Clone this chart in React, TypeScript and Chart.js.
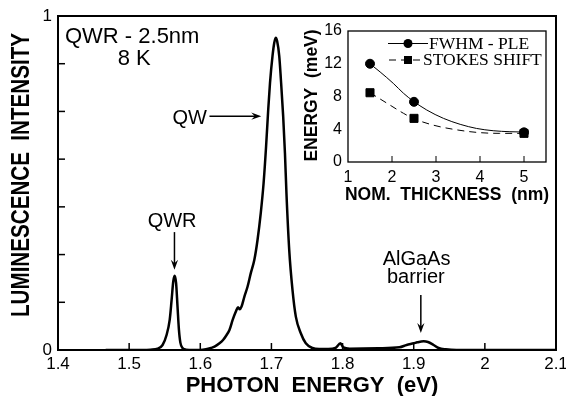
import React, { useEffect, useRef } from "react";
import { Chart, registerables } from "chart.js";

Chart.register(...registerables);

// ---------- Main spectrum data ----------
const spectrumEnergy = [
  1.467, 1.52, 1.53, 1.54, 1.547, 1.5526, 1.557, 1.5597, 1.562, 1.5639, 1.566, 1.568, 1.57, 1.572, 1.575, 1.58, 1.59,
  1.6, 1.608, 1.615, 1.62, 1.627, 1.632, 1.637, 1.641, 1.6455, 1.65, 1.653, 1.6555, 1.658, 1.662, 1.6665, 1.671,
  1.676, 1.6805, 1.685, 1.689, 1.6925, 1.6955, 1.698, 1.7015, 1.704, 1.706, 1.708, 1.711, 1.7133, 1.7165, 1.719,
  1.7211, 1.725, 1.7296, 1.7343, 1.7413, 1.7483, 1.7576, 1.767, 1.78, 1.79, 1.797, 1.801, 1.81, 1.85, 1.88, 1.89,
  1.9, 1.905, 1.914, 1.92, 1.928, 1.935, 1.945, 1.96, 2.1,
];
const spectrumIntensity = [
  0, 0, 0.001, 0.004, 0.015, 0.045, 0.09, 0.15, 0.205, 0.222, 0.2, 0.13, 0.06, 0.022, 0.006, 0.001, 0,
  0, 0.002, 0.006, 0.01, 0.02, 0.03, 0.045, 0.06, 0.09, 0.115, 0.128, 0.122, 0.13, 0.16, 0.19, 0.23,
  0.27, 0.33, 0.41, 0.5, 0.61, 0.72, 0.8, 0.88, 0.92, 0.935, 0.925, 0.88, 0.81, 0.7, 0.59,
  0.47, 0.3, 0.18, 0.1, 0.05, 0.02, 0.006, 0.003, 0.003, 0.006, 0.02, 0.008, 0.004, 0.005, 0.008, 0.015,
  0.02, 0.023, 0.026, 0.024, 0.015, 0.006, 0.002, 0, 0,
];
const mainXTicks = [1.4, 1.5, 1.6, 1.7, 1.8, 1.9, 2.0, 2.1];
const mainXInnerTicks = [1.5, 1.6, 1.7, 1.8, 1.9, 2.0];
const mainYTicks = [0, 1];
const mainYDivisions = 7;

// ---------- Inset data ----------
const thickness = [1.5, 2.5, 5];
const fwhmPle = [12.0, 7.35, 3.62];
const stokesShift = [8.46, 5.33, 3.5];
const fwhmFitX = [1.5, 1.73, 2.03, 2.26, 2.48, 2.79, 3.17, 3.55, 3.92, 4.3, 4.68, 4.98];
const fwhmFitY = [12.0, 11.0, 9.6, 8.4, 7.45, 6.35, 5.33, 4.6, 4.1, 3.82, 3.7, 3.66];
const stokesFitX = [1.5, 1.88, 2.26, 2.48, 2.94, 3.39, 3.92, 4.45, 4.98];
const stokesFitY = [8.46, 7.2, 5.95, 5.33, 4.5, 4.0, 3.62, 3.5, 3.5];
const insetXTicks = [1, 2, 3, 4, 5];
const insetXInnerTicks = [2, 3, 4, 5];
const insetYTicks = [0, 4, 8, 12, 16];

const SANS = "'Liberation Sans', Arial, Helvetica, sans-serif";
const SERIF = "'Liberation Serif', 'Times New Roman', serif";

function drawArrow(ctx: CanvasRenderingContext2D, x1: number, y1: number, x2: number, y2: number, head = 10, half = 3.6) {
  const a = Math.atan2(y2 - y1, x2 - x1);
  const c = Math.cos(a), s = Math.sin(a);
  ctx.beginPath();
  ctx.moveTo(x1, y1);
  ctx.lineTo(x2 - c * head * 0.6, y2 - s * head * 0.6);
  ctx.stroke();
  ctx.beginPath();
  ctx.moveTo(x2, y2);
  ctx.lineTo(x2 - head * c + half * s, y2 - head * s - half * c);
  ctx.lineTo(x2 - head * 0.65 * c, y2 - head * 0.65 * s);
  ctx.lineTo(x2 - head * c - half * s, y2 - head * s + half * c);
  ctx.closePath();
  ctx.fill();
}

function line(ctx: CanvasRenderingContext2D, x1: number, y1: number, x2: number, y2: number) {
  ctx.beginPath();
  ctx.moveTo(x1, y1);
  ctx.lineTo(x2, y2);
  ctx.stroke();
}

const mainDecor = {
  id: "mainDecor",
  afterDatasetsDraw(chart: any) {
    const { ctx, chartArea: a, scales } = chart;
    const x = scales.x, y = scales.y;
    ctx.save();
    ctx.strokeStyle = "#000";
    ctx.fillStyle = "#000";
    ctx.lineWidth = 2;
    ctx.strokeRect(a.left, a.top, a.right - a.left, a.bottom - a.top);
    ctx.lineWidth = 1.5;
    mainXInnerTicks.forEach((v) => {
      const px = x.getPixelForValue(v);
      line(ctx, px, a.bottom, px, a.bottom - 7);
    });
    for (let k = 1; k < mainYDivisions; k++) {
      const py = y.getPixelForValue(k / mainYDivisions);
      line(ctx, a.left, py, a.left + 7, py);
    }

    // annotations
    ctx.textBaseline = "alphabetic";
    ctx.font = `22px ${SANS}`;
    ctx.textAlign = "left";
    ctx.fillText("QWR - 2.5nm", x.getPixelForValue(1.4098), y.getPixelForValue(0.919));
    ctx.fillText("8 K", x.getPixelForValue(1.484), y.getPixelForValue(0.853));
    ctx.font = `20px ${SANS}`;
    ctx.fillText("QW", x.getPixelForValue(1.561), y.getPixelForValue(0.678));
    ctx.lineWidth = 1.5;
    drawArrow(ctx, x.getPixelForValue(1.6129), y.getPixelForValue(0.7), x.getPixelForValue(1.6857), y.getPixelForValue(0.7));
    ctx.textAlign = "center";
    ctx.fillText("QWR", x.getPixelForValue(1.5604), y.getPixelForValue(0.368));
    drawArrow(ctx, x.getPixelForValue(1.5637), y.getPixelForValue(0.353), x.getPixelForValue(1.5637), y.getPixelForValue(0.24));
    ctx.fillText("AlGaAs", x.getPixelForValue(1.904), y.getPixelForValue(0.254));
    ctx.fillText("barrier", x.getPixelForValue(1.903), y.getPixelForValue(0.2));
    drawArrow(ctx, x.getPixelForValue(1.91), y.getPixelForValue(0.165), x.getPixelForValue(1.91), y.getPixelForValue(0.051));

    // axis titles
    ctx.font = `bold 22px ${SANS}`;
    ctx.textAlign = "center";
    ctx.fillText("PHOTON  ENERGY  (eV)", (a.left + a.right) / 2 + 5, a.bottom + 41.5);
    ctx.save();
    ctx.translate(22, (a.top + a.bottom) / 2 - 8);
    ctx.rotate(-Math.PI / 2);
    ctx.font = `bold 22px ${SANS}`;
    ctx.textBaseline = "middle";
    const yTitle = "LUMINESCENCE  INTENSITY";
    const w = ctx.measureText(yTitle).width;
    ctx.scale(284 / w, 1.2);
    ctx.fillText(yTitle, 0, 0);
    ctx.restore();
    ctx.restore();
  },
};

const insetDecor = {
  id: "insetDecor",
  afterDatasetsDraw(chart: any) {
    const { ctx, chartArea: a, scales } = chart;
    const x = scales.x;
    ctx.save();
    ctx.strokeStyle = "#000";
    ctx.fillStyle = "#000";
    ctx.lineWidth = 1.3;
    ctx.strokeRect(a.left, a.top, a.right - a.left, a.bottom - a.top);
    ctx.lineWidth = 1;
    insetXInnerTicks.forEach((v) => {
      const px = x.getPixelForValue(v);
      line(ctx, px, a.bottom, px, a.bottom - 6);
    });

    // legend
    const lx0 = a.left + 40, lx1 = a.left + 80, lm = a.left + 60;
    const r1 = a.top + 12.5, r2 = a.top + 29;
    ctx.lineWidth = 1;
    line(ctx, lx0, r1, lx1, r1);
    ctx.beginPath();
    ctx.arc(lm, r1, 4.5, 0, Math.PI * 2);
    ctx.fill();
    ctx.setLineDash([7, 5]);
    line(ctx, lx0 + 1, r2, lx1 - 7, r2);
    ctx.setLineDash([]);
    ctx.fillRect(lm - 4, r2 - 4, 8, 8);
    ctx.font = `17.5px ${SERIF}`;
    ctx.textAlign = "left";
    ctx.textBaseline = "alphabetic";
    ctx.fillText("FWHM - PLE", lx1 + 1, r1 + 5);
    ctx.fillText("STOKES SHIFT", lx1 - 5, r2 + 5);

    // titles
    ctx.font = `bold 17.5px ${SANS}`;
    ctx.textAlign = "center";
    ctx.textBaseline = "middle";
    ctx.fillText("NOM.  THICKNESS  (nm)", (a.left + a.right) / 2, a.bottom + 33);
    ctx.save();
    ctx.translate(22, (a.top + a.bottom) / 2 - 1);
    ctx.rotate(-Math.PI / 2);
    ctx.font = `bold 17.5px ${SANS}`;
    ctx.fillText("ENERGY  (meV)", 0, 0);
    ctx.restore();
    ctx.restore();
  },
};

function fmt(v: any) {
  return Number(Number(v).toFixed(1)).toString();
}

export default function App() {
  const mainRef = useRef<HTMLCanvasElement>(null);
  const insetRef = useRef<HTMLCanvasElement>(null);

  useEffect(() => {
    const main = new Chart(mainRef.current as HTMLCanvasElement, {
      type: "line",
      data: {
        datasets: [
          {
            data: spectrumEnergy.map((e, i) => ({ x: e, y: spectrumIntensity[i] })),
            borderColor: "#000",
            borderWidth: 2.5,
            pointRadius: 0,
            fill: false,
            cubicInterpolationMode: "monotone",
          },
        ],
      },
      options: {
        animation: false,
        responsive: false,
        layout: { padding: { left: 0, right: 10, top: 16, bottom: 0 } },
        plugins: { legend: { display: false }, tooltip: { enabled: false } },
        scales: {
          x: {
            type: "linear",
            min: 1.4,
            max: 2.1,
            grid: { display: false, drawTicks: false },
            border: { display: false },
            afterBuildTicks: (s: any) => {
              s.ticks = mainXTicks.map((v) => ({ value: v }));
            },
            afterFit: (s: any) => {
              s.height = 46;
              s.paddingLeft = 0;
              s.paddingRight = 0;
            },
            ticks: {
              color: "#000",
              font: { family: SANS, size: 17 },
              padding: 4,
              maxRotation: 0,
              autoSkip: false,
              callback: (v: any) => fmt(v),
            },
          },
          y: {
            type: "linear",
            min: 0,
            max: 1,
            grid: { display: false, drawTicks: false },
            border: { display: false },
            afterBuildTicks: (s: any) => {
              s.ticks = mainYTicks.map((v) => ({ value: v }));
            },
            afterFit: (s: any) => {
              s.width = 58;
              s.paddingTop = 0;
              s.paddingBottom = 0;
            },
            ticks: {
              color: "#000",
              font: { family: SANS, size: 17 },
              padding: 6,
              callback: (v: any) => String(v),
            },
          },
        },
      },
      plugins: [mainDecor],
    } as any);

    const inset = new Chart(insetRef.current as HTMLCanvasElement, {
      type: "line",
      data: {
        datasets: [
          {
            data: fwhmFitX.map((v, i) => ({ x: v, y: fwhmFitY[i] })),
            borderColor: "#000",
            borderWidth: 1,
            pointRadius: 0,
            cubicInterpolationMode: "monotone",
          },
          {
            data: stokesFitX.map((v, i) => ({ x: v, y: stokesFitY[i] })),
            borderColor: "#000",
            borderWidth: 1,
            borderDash: [7, 5],
            pointRadius: 0,
            cubicInterpolationMode: "monotone",
          },
          {
            data: thickness.map((v, i) => ({ x: v, y: fwhmPle[i] })),
            showLine: false,
            pointStyle: "circle",
            pointRadius: 4.5,
            pointBackgroundColor: "#000",
            pointBorderColor: "#000",
          },
          {
            data: thickness.map((v, i) => ({ x: v, y: stokesShift[i] })),
            showLine: false,
            pointStyle: "rect",
            pointRadius: 5.7,
            pointBackgroundColor: "#000",
            pointBorderColor: "#000",
          },
        ],
      },
      options: {
        animation: false,
        responsive: false,
        layout: { padding: { left: 0, right: 10, top: 11, bottom: 0 } },
        plugins: { legend: { display: false }, tooltip: { enabled: false } },
        scales: {
          x: {
            type: "linear",
            min: 1,
            max: 5.5,
            grid: { display: false, drawTicks: false },
            border: { display: false },
            afterBuildTicks: (s: any) => {
              s.ticks = insetXTicks.map((v) => ({ value: v }));
            },
            afterFit: (s: any) => {
              s.height = 43;
              s.paddingLeft = 0;
              s.paddingRight = 0;
            },
            ticks: {
              color: "#000",
              font: { family: SANS, size: 16 },
              padding: 6,
              maxRotation: 0,
              autoSkip: false,
            },
          },
          y: {
            type: "linear",
            min: 0,
            max: 16,
            grid: { display: false, drawTicks: false },
            border: { display: false },
            afterBuildTicks: (s: any) => {
              s.ticks = insetYTicks.map((v) => ({ value: v }));
            },
            afterFit: (s: any) => {
              s.width = 58;
              s.paddingTop = 0;
              s.paddingBottom = 0;
            },
            ticks: {
              color: "#000",
              font: { family: SANS, size: 16 },
              padding: 6,
            },
          },
        },
      },
      plugins: [insetDecor],
    } as any);

    return () => {
      main.destroy();
      inset.destroy();
    };
  }, []);

  return (
    <div style={{ position: "fixed", left: 0, top: 0, width: 566, height: 396, background: "#fff" }}>
      <canvas ref={mainRef} width={566} height={396} style={{ position: "absolute", left: 0, top: 0 }} />
      <canvas ref={insetRef} width={266} height={185} style={{ position: "absolute", left: 290, top: 20 }} />
    </div>
  );
}
